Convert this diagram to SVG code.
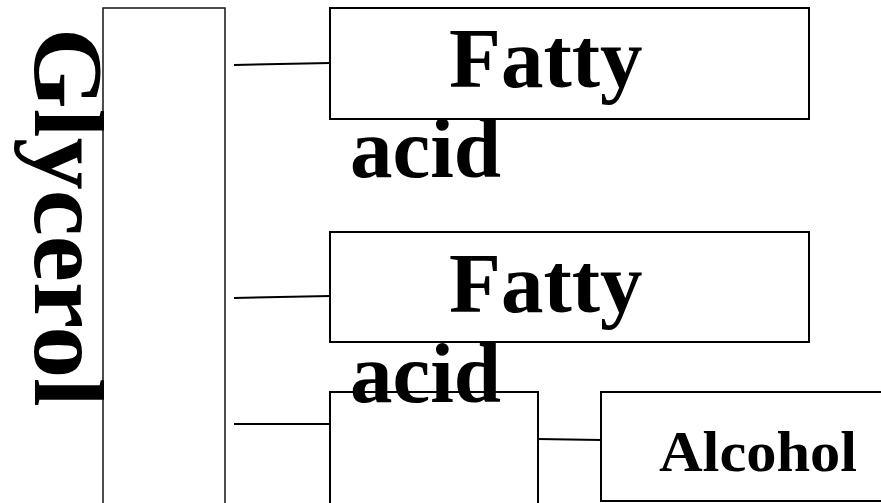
<svg xmlns="http://www.w3.org/2000/svg" width="881" height="503" viewBox="0 0 881 503">
<style>
.box{fill:#fff;stroke:#000;stroke-width:2}
.conn{stroke:#000;stroke-width:2;fill:none}
.lbl{font-family:"Liberation Serif","Times New Roman",serif;font-weight:bold;fill:#000}
</style>
<rect width="881" height="503" fill="#fff"/>
<g id="connectors">
<line class="conn" x1="234" y1="65" x2="330" y2="63"/>
<line class="conn" x1="234" y1="298" x2="330" y2="296"/>
<line class="conn" x1="234" y1="424" x2="330" y2="424"/>
<line class="conn" x1="538" y1="439" x2="601" y2="440"/>
</g>
<g id="glycerol">
<rect class="box" x="103" y="8" width="122" height="510" style="stroke:#222;stroke-width:1.6"/>
<text class="lbl" transform="translate(35,28) rotate(90)" font-size="100" textLength="379" lengthAdjust="spacingAndGlyphs">Glycerol</text>
</g>
<g id="fatty1">
<rect class="box" x="330" y="8" width="479" height="111"/>
<text class="lbl" x="449" y="87" font-size="85">Fatty</text>
<text class="lbl" x="350" y="177" font-size="85">acid</text>
</g>
<g id="ester">
<rect class="box" x="330" y="392" width="208" height="126"/>
</g>
<g id="fatty2">
<rect class="box" x="330" y="232" width="479" height="110"/>
<text class="lbl" x="449" y="312" font-size="85">Fatty</text>
<text class="lbl" x="350" y="402" font-size="85">acid</text>
</g>
<g id="alcohol">
<rect class="box" x="601" y="392" width="290" height="109"/>
<text class="lbl" x="659" y="471" font-size="56" textLength="198" lengthAdjust="spacingAndGlyphs">Alcohol</text>
</g>
</svg>
